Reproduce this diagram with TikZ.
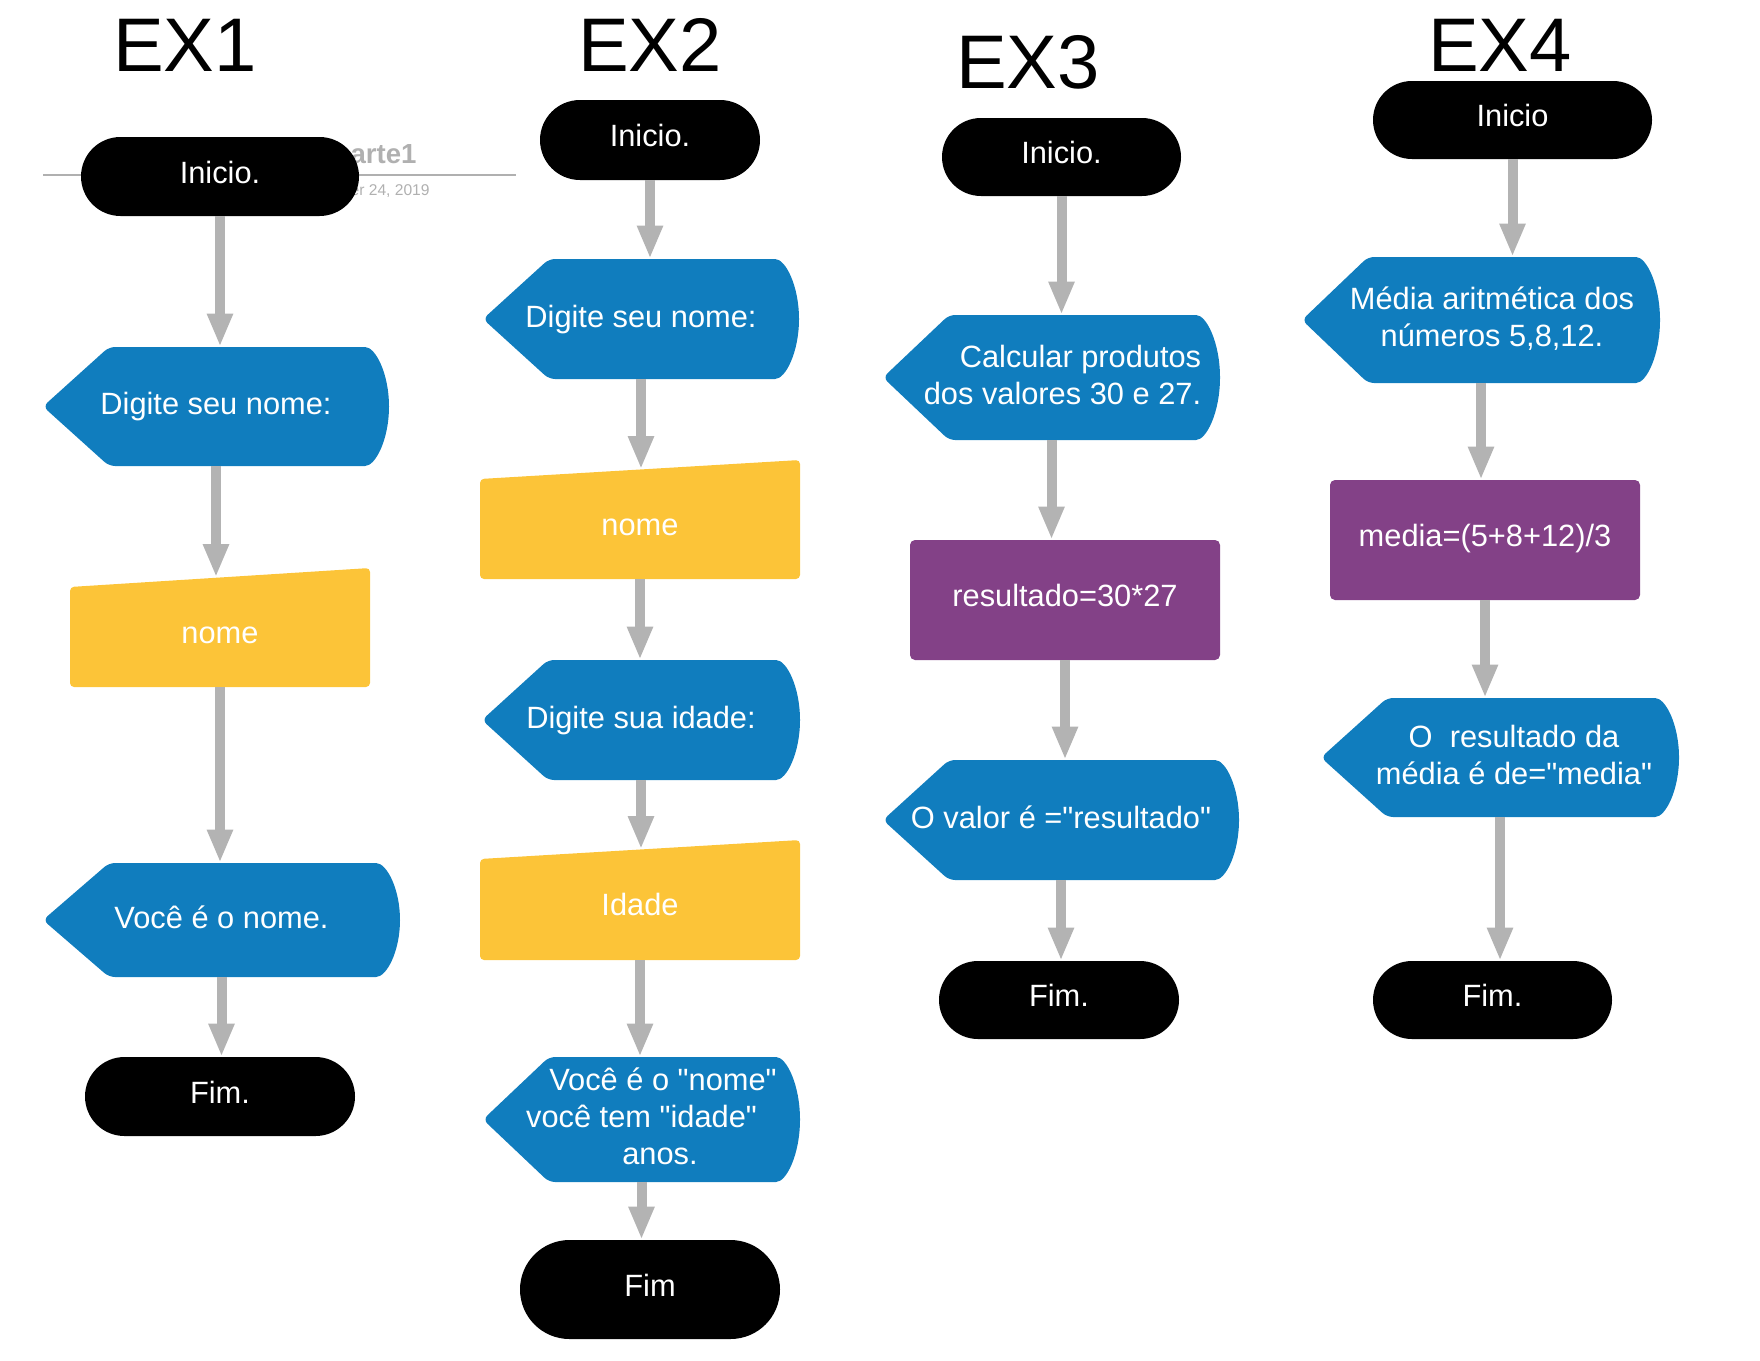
\documentclass[tikz,border=0pt]{standalone}
\usepackage{fontspec}
\setmainfont{Liberation Sans}[Ligatures=TeXOff]
\usepackage{xcolor}
\usepackage{tikz}
\definecolor{clrDisp}  {RGB}{16,125,190}
\definecolor{clrInput} {RGB}{252,196,56}
\definecolor{clrProc}  {RGB}{131,65,135}
\definecolor{clrArrow} {RGB}{179,179,179}
\definecolor{clrFaint} {RGB}{176,176,176}
\usetikzlibrary{arrows.meta,calc,shapes.misc}

\begin{document}
\begin{tikzpicture}[
  x=0.5pt, y=-0.5pt,                         % 1 unit = 1 px, y downwards
  every node/.style = {font=\fontsize{15.4}{18.5}\selectfont, inner sep=0pt},
  %--- node styles ---------------------------------------------------
  titlest/.style  = {font=\fontsize{38}{40}\selectfont},
  termst/.style   = {fill=black, text=white, rounded rectangle,
                     text height=11.2pt, text depth=4.4pt},
  dispst/.style   = {text=white, rectangle, align=center,
                     text height=11.2pt, text depth=3.2pt,
                     path picture={
                       \fill[clrDisp, rounded corners=3pt]
                         let \p1 = (path picture bounding box.north east),
                             \p2 = (path picture bounding box.south east) in
                         ([xshift=33pt]path picture bounding box.south west)
                         -- (path picture bounding box.west)
                         -- ([xshift=33pt]path picture bounding box.north west)
                         -- ([xshift=-15pt]path picture bounding box.north east)
                         arc[start angle=90, end angle=-90,
                             x radius=15pt, y radius={(\y1-\y2)/2}]
                         -- cycle;}},
  manst/.style    = {text=white, rectangle,
                     text height=19pt, text depth=3.2pt,
                     path picture={
                       \fill[clrInput, rounded corners=2pt]
                         (path picture bounding box.south west)
                         -- (path picture bounding box.south east)
                         -- (path picture bounding box.north east)
                         -- ([yshift=-9.5pt]path picture bounding box.north west)
                         -- cycle;}},
  procst/.style   = {fill=clrProc, text=white, rectangle,
                     rounded corners=2.5pt,
                     text height=13pt, text depth=6.2pt},
  multi/.style    = {text height=, text depth=3pt},
  arr/.style      = {-{Triangle[width=12pt, length=16.5pt]},
                     line width=5pt, color=clrArrow},
  arrman/.style   = {arr, shorten >=-4.75pt},
]
\useasboundingbox (0,0) rectangle (1760,1360);

% ---- faint page header behind EX1 ---------------------------------
\draw[clrFaint, line width=1pt] (43,175) -- (516,175);
\node[font=\bfseries\fontsize{13.8}{16}\selectfont, text=clrFaint,
      anchor=base east] (hd) at (417,163) {parte1};
\node[font=\fontsize{7.8}{9}\selectfont, text=clrFaint,
      anchor=base east] (dt) at (430,195) {er 24, 2019};

% ---- EX1 ----------------------------------------------------------
\node[titlest] (t1) at (185,45) {EX1};
\node[termst, minimum width=139pt, minimum height=39.5pt]
    (in1) at (220,176.5) {Inicio.};
\node[dispst, minimum width=173pt, minimum height=59.5pt]
    (d1) at (216,406.5) {Digite seu nome:};
\node[manst, minimum width=150pt, minimum height=59.5pt]
    (n1) at (220,627.5) {nome};
\node[dispst, minimum width=178.5pt, minimum height=57pt]
    (v1) at (221.5,920) {Você é o nome.};
\node[termst, minimum width=135pt, minimum height=39.5pt]
    (f1) at (220,1096.5) {Fim.};

% ---- EX2 ----------------------------------------------------------
\node[titlest] (t2) at (650,45) {EX2};
\node[termst, minimum width=110pt, minimum height=40pt]
    (in2) at (650,140) {Inicio.};
\node[dispst, minimum width=158pt, minimum height=60pt]
    (d2) at (641,319) {Digite seu nome:};
\node[manst, minimum width=160pt, minimum height=59.5pt]
    (n2) at (640,519.5) {nome};
\node[dispst, minimum width=159pt, minimum height=60pt]
    (i2) at (641,720) {Digite sua idade:};
\node[manst, minimum width=160pt, minimum height=60pt]
    (a2) at (640,900) {Idade};
\node[dispst, multi, minimum width=158.5pt, minimum height=62.5pt]
    (v2) at (641.5,1119.5)
    {\hspace*{21.5pt}Você é o "nome"\\você tem "idade"\\\hspace*{18.5pt}anos.};
\node[termst, minimum width=130pt, minimum height=49.5pt]
    (f2) at (650,1289.5) {Fim};

% ---- EX3 ----------------------------------------------------------
\node[titlest] (t3) at (1028,62) {EX3};
\node[termst, minimum width=119.5pt, minimum height=39pt]
    (in3) at (1061.5,157) {Inicio.};
\node[dispst, multi, align=right, minimum width=168.5pt, minimum height=62.5pt]
    (c3) at (1051.5,377.5)
    {Calcular produtos\\\hspace*{11pt}dos valores 30 e 27.};
\node[procst, minimum width=155pt, minimum height=60pt]
    (r3) at (1065,600) {resultado=30*27};
\node[dispst, minimum width=178pt, minimum height=60pt]
    (o3) at (1061,820) {O valor é ="resultado"};
\node[termst, minimum width=120pt, minimum height=39pt]
    (f3) at (1059,1000) {Fim.};

% ---- EX4 ----------------------------------------------------------
\node[titlest] (t4) at (1500,45) {EX4};
\node[termst, minimum width=139.5pt, minimum height=39pt]
    (in4) at (1512.5,120) {Inicio};
\node[dispst, multi, minimum width=179pt, minimum height=63pt]
    (m4) at (1481,320)
    {\hspace*{11pt}Média aritmética dos\\\hspace*{11pt}números 5,8,12.};
\node[procst, minimum width=155pt, minimum height=60pt]
    (e4) at (1485,540) {media=(5+8+12)/3};
\node[dispst, multi, minimum width=179pt, minimum height=59.5pt]
    (o4) at (1500,757.5)
    {\hspace*{14pt}O\ \ resultado da\\\hspace*{14pt}média é de="media"};
\node[termst, minimum width=119.5pt, minimum height=39pt]
    (f4) at (1492.5,1000) {Fim.};

% ---- Arrows -------------------------------------------------------
\draw[arr]    (in1.south) -- (in1.south |- d1.north);
\draw[arrman] (d1.south)  -- (d1.south |- n1.north);
\draw[arr]    (n1.south)  -- (n1.south |- v1.north);
\draw[arr]    (v1.south)  -- (v1.south |- f1.north);

\draw[arr]    (in2.south) -- (in2.south |- d2.north);
\draw[arrman] (d2.south)  -- (d2.south |- n2.north);
\draw[arr]    (n2.south)  -- (n2.south |- i2.north);
\draw[arrman] (i2.south)  -- (i2.south |- a2.north);
\draw[arr]    (a2.south)  -- (a2.south |- v2.north);
\draw[arr]    (v2.south)  -- (v2.south |- f2.north);

\draw[arr]    (in3.south) -- (in3.south |- c3.north);
\draw[arr]    (c3.south)  -- (c3.south |- r3.north);
\draw[arr]    (r3.south)  -- (r3.south |- o3.north);
\draw[arr]    (o3.south)  -- (o3.south |- f3.north);

\draw[arr]    (in4.south) -- (in4.south |- m4.north);
\draw[arr]    (m4.south)  -- (m4.south |- e4.north);
\draw[arr]    (e4.south)  -- (e4.south |- o4.north);
\draw[arr]    (o4.south)  -- (o4.south |- f4.north);

\end{tikzpicture}
\end{document}
